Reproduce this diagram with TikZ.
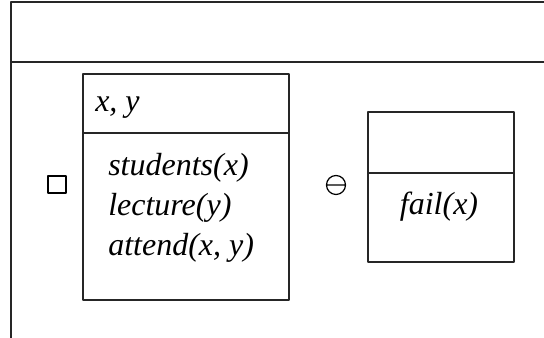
\documentclass[tikz,border=0pt]{standalone}
\usepackage{fontspec}
\setmainfont{Liberation Serif}
\begin{document}
\begin{tikzpicture}[x=0.75pt,y=0.75pt,line join=round,line cap=round,font=\fontsize{24}{30}\selectfont\itshape,
    khung/.style={draw,line width=0.8pt,black!85},
    chu/.style={anchor=base west,inner sep=0pt}]
    \useasboundingbox (0,0) rectangle (544,338);
    \clip (0,0) rectangle (544,338);
    % outer frame
    \draw[khung] (560,336)coordinate(P)--(11,336)coordinate(Q)--(11,-10)coordinate(R) (11,276)coordinate(S)--(560,276)coordinate(T);
    % left box
    \draw[khung] (83,38)coordinate(A)rectangle(289,264)coordinate(B) (83,205)coordinate(M)--(289,205)coordinate(N);
    \node[chu] (u1) at (95,226) {x, y};
    \foreach \dong/\y/\ten in {students(x)/162/c1,lecture(y)/122/c2,{attend(x, y)}/82/c3} \node[chu] (\ten) at (108,\y) {\dong};
    % right box
    \draw[khung] (368,76)coordinate(C)rectangle(514,226)coordinate(D) (368,165)coordinate(K)--(514,165)coordinate(L);
    \node[anchor=base,inner sep=0pt] (c4) at (439,123) {fail(x)};
    % symbols
    \draw[line width=1.6pt] (48.3,144.8) rectangle (65.7,162.2);
    \draw[line width=0.9pt] (336,153) circle (9.5) (326.5,153)--(345.5,153);
\end{tikzpicture}
\end{document}
